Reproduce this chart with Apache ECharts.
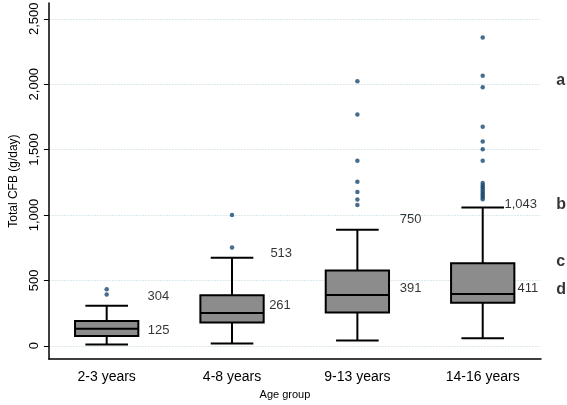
<!DOCTYPE html>
<html>
<head>
<meta charset="utf-8">
<script src="https://cdn.jsdelivr.net/npm/echarts@6/dist/echarts.min.js"></script>
<style>html,body{margin:0;padding:0;background:#fff}#c{width:567px;height:405px}</style>
</head>
<body>
<div id="c"></div>
<script>
// ---- data ----
const categories = ['2-3 years', '4-8 years', '9-13 years', '14-16 years'];
const lowWhisker  = [9, 18, 41, 58];
const q1          = [75, 177, 255, 329];
const median      = [130, 250, 388, 396];
const q3          = [189, 386, 576, 630];
const highWhisker = [305, 672, 887, 1057];
const outliers = [
  [433, 391],
  [1000, 751],
  [2023, 1769, 1414, 1254, 1175, 1118, 1076],
  [2356, 2065, 1976, 1675, 1562, 1503, 1414, 1245, 1228, 1212, 1196, 1180, 1165, 1150, 1135, 1120]
];
const yTicks = [0, 500, 1000, 1500, 2000, 2500];
// annotation texts: [x (category position), y (value), text]
const annoNumbers = [
  [1.326, 379, '304'], [1.328, 120, '125'],
  [2.306, 706, '513'], [2.296, 305, '261'],
  [3.339, 963, '750'], [3.339, 440, '391'],
  [4.173, 1081, '1,043'], [4.278, 436, '411']
];
const annoLetters = [
  [4.587, 2028, 'a'], [4.587, 1081, 'b'], [4.587, 645, 'c'], [4.587, 430, 'd']
];

// ---- build ----
const boxData = categories.map((c, i) => [i + 1, lowWhisker[i], q1[i], median[i], q3[i], highWhisker[i]]);
const outData = [];
outliers.forEach((arr, i) => arr.forEach(v => outData.push([i + 1, v])));

const FONT = 'Liberation Sans, Arial, Helvetica, sans-serif';
const chart = echarts.init(document.getElementById('c'), null, {renderer: 'canvas'});
chart.setOption({
  animation: false,
  backgroundColor: '#ffffff',
  grid: {left: 43, right: 26, top: 2, bottom: 35},
  xAxis: {
    type: 'value', min: 0.539, max: 4.465,
    name: 'Age group', nameLocation: 'middle', nameGap: 25,
    nameTextStyle: {fontFamily: FONT, fontSize: 11, color: '#000', padding: [0, 20, 0, 0]},
    axisLine: {show: true, onZero: false, lineStyle: {color: '#000', width: 1.5}},
    axisTick: {show: false},
    splitLine: {show: false},
    axisLabel: {
      customValues: [1, 2, 3, 4],
      formatter: v => categories[Math.round(v) - 1],
      fontFamily: FONT, fontSize: 14, color: '#000', margin: 11
    }
  },
  yAxis: {
    type: 'value', min: -102, max: 2620,
    name: 'Total CFB (g/day)', nameLocation: 'middle', nameGap: 28,
    nameTextStyle: {fontFamily: FONT, fontSize: 12, color: '#000'},
    axisLine: {show: true, onZero: false, lineStyle: {color: '#000', width: 1.5}},
    axisTick: {show: true, length: 5, customValues: yTicks, lineStyle: {color: '#000', width: 1}},
    axisLabel: {
      customValues: yTicks, rotate: 90,
      formatter: v => v.toLocaleString('en-US'),
      fontFamily: FONT, fontSize: 13, color: '#000', margin: 8
    },
    splitLine: {show: true, lineStyle: {color: '#dae8ed', width: 1, type: [2, 1]}}
  },
  series: [
    {
      type: 'custom',
      data: boxData,
      clip: false,
      renderItem: function (params, api) {
        const x = api.value(0);
        const pLo = api.coord([x, api.value(1)]);
        const pQ1 = api.coord([x, api.value(2)]);
        const pMed = api.coord([x, api.value(3)]);
        const pQ3 = api.coord([x, api.value(4)]);
        const pHi = api.coord([x, api.value(5)]);
        const boxW = api.size([0.505, 0])[0];
        const capW = api.size([0.34, 0])[0];
        const cx = pMed[0];
        const ls = {stroke: '#000', lineWidth: 2};
        return {
          type: 'group',
          children: [
            {type: 'line', shape: {x1: cx, y1: pLo[1], x2: cx, y2: pQ1[1]}, style: ls},
            {type: 'line', shape: {x1: cx, y1: pQ3[1], x2: cx, y2: pHi[1]}, style: ls},
            {type: 'line', shape: {x1: cx - capW / 2, y1: pLo[1], x2: cx + capW / 2, y2: pLo[1]}, style: ls},
            {type: 'line', shape: {x1: cx - capW / 2, y1: pHi[1], x2: cx + capW / 2, y2: pHi[1]}, style: ls},
            {type: 'rect', shape: {x: cx - boxW / 2, y: pQ3[1], width: boxW, height: pQ1[1] - pQ3[1]},
              style: {fill: '#8c8c8c', stroke: '#000', lineWidth: 2}},
            {type: 'line', shape: {x1: cx - boxW / 2, y1: pMed[1], x2: cx + boxW / 2, y2: pMed[1]}, style: ls}
          ]
        };
      }
    },
    {
      type: 'scatter', data: outData, symbol: 'circle', symbolSize: 4.5,
      itemStyle: {color: '#1a476f'}
    },
    {
      type: 'scatter', clip: false, symbolSize: 0,
      data: annoNumbers.map(a => ({value: [a[0], a[1]], name: a[2]})),
      label: {show: true, position: 'right', distance: 0, formatter: p => p.name,
        fontFamily: FONT, fontSize: 13, color: '#000', fontWeight: 'normal'}
    },
    {
      type: 'scatter', clip: false, symbolSize: 0,
      data: annoLetters.map(a => ({value: [a[0], a[1]], name: a[2]})),
      label: {show: true, position: 'right', distance: 0, formatter: p => p.name,
        fontFamily: FONT, fontSize: 16, color: '#000', fontWeight: 'bold'}
    }
  ]
});
</script>
</body>
</html>
